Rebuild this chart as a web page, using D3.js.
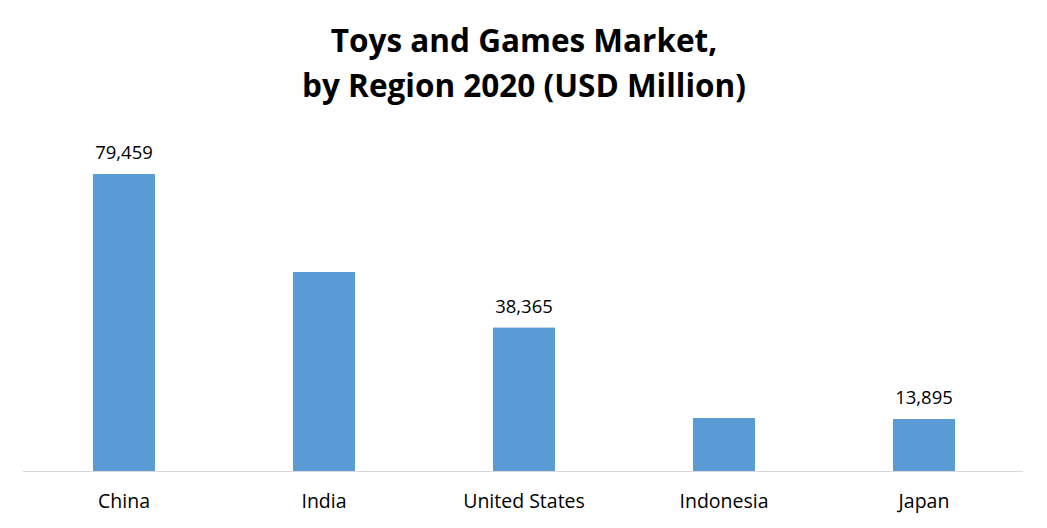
<!DOCTYPE html>
<html>
<head>
<meta charset="utf-8">
<script src="https://cdn.jsdelivr.net/npm/d3@7"></script>
<style>
  html, body { margin: 0; padding: 0; background: #fff; }
  svg { display: block; }
</style>
</head>
<body>
<svg id="chart" width="1047" height="528"></svg>
<script>
const categories = ["China", "India", "United States", "Indonesia", "Japan"];
const values = [79459, 53240, 38365, 14180, 13895];
const labelShown = [true, false, true, false, true];
const titleLines = ["Toys and Games Market,", "by Region 2020 (USD Million)"];

const W = 1047, H = 528;
const svg = d3.select("#chart");
const font = "'Open Sans', Lato, sans-serif";

const x = d3.scaleBand().domain(categories).range([24, 1024]).paddingInner(0.69).paddingOuter(0.345);
const baseline = 471;
const y = d3.scaleLinear().domain([0, 90000]).range([baseline, baseline - 297 * 90000 / 79459]);

// title
svg.append("g").selectAll("text").data(titleLines).join("text")
  .attr("x", 524)
  .attr("y", (d, i) => 52 + i * 45)
  .attr("text-anchor", "middle")
  .style("font-family", font)
  .style("font-weight", "bold")
  .style("font-size", "31.5px")
  .style("fill", "#000")
  .text(d => d);

// bars
svg.append("g").selectAll("rect").data(categories).join("rect")
  .attr("x", d => x(d))
  .attr("width", x.bandwidth())
  .attr("y", (d, i) => y(values[i]))
  .attr("height", (d, i) => baseline - y(values[i]))
  .attr("fill", "#5b9bd5");

// axis
const axis = d3.axisBottom(x).tickSize(0).tickPadding(0);
const ag = svg.append("g").attr("transform", `translate(0,${baseline})`).call(axis);
ag.select(".domain").attr("d", "M23,0.5H1023").attr("stroke", "#d9d9d9").attr("stroke-width", 1);
ag.selectAll(".tick text")
  .attr("y", 37)
  .attr("dy", 0)
  .style("font-family", font)
  .style("font-size", "19.5px")
  .style("fill", "#000");

// value labels
const fmt = d3.format(",");
svg.append("g").selectAll("text").data(categories.filter((d, i) => labelShown[i])).join("text")
  .attr("x", d => x(d) + x.bandwidth() / 2)
  .attr("y", d => y(values[categories.indexOf(d)]) - 15)
  .attr("text-anchor", "middle")
  .style("font-family", font)
  .style("font-size", "18.5px")
  .style("fill", "#000")
  .text(d => fmt(values[categories.indexOf(d)]));
</script>
</body>
</html>
